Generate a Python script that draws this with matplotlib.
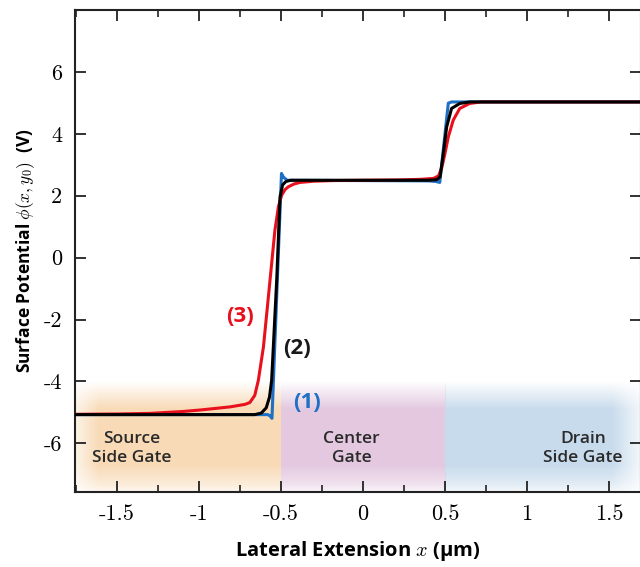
import numpy as np
import matplotlib
matplotlib.use("Agg")
import matplotlib.pyplot as plt
from matplotlib.ticker import MultipleLocator

plt.rcParams['mathtext.fontset'] = 'cm'
plt.rcParams['axes.unicode_minus'] = False

# curve (1): blue
x1 = [-1.76, -0.58, -0.565, -0.555, -0.497, -0.485, -0.462, 0.40, 0.445, 0.468, 0.52, 0.54, 1.70]
y1 = [-5.07, -5.07, -5.12, -5.19, 2.72, 2.60, 2.50, 2.48, 2.46, 2.43, 4.99, 5.03, 5.03]

# curve (2): black
x2 = [-1.76, -0.66, -0.62, -0.59, -0.57, -0.557, -0.526, -0.506, -0.49, -0.47, -0.44,
      0.40, 0.45, 0.47, 0.49, 0.51, 0.54, 0.59, 0.65, 1.70]
y2 = [-5.07, -5.07, -5.02, -4.85, -4.5, -3.96, -0.7, 1.96, 2.35, 2.46, 2.50,
      2.50, 2.52, 2.61, 3.37, 4.22, 4.82, 4.98, 5.03, 5.03]

# curve (3): red
x3 = [-1.76, -1.5, -1.3, -1.1, -0.99, -0.81, -0.72, -0.69, -0.66, -0.638, -0.607, -0.577,
      -0.557, -0.537, -0.516, -0.496, -0.475, -0.455, -0.42, -0.384, -0.30, -0.18, 0.0,
      0.2, 0.35, 0.43, 0.46, 0.48, 0.50, 0.52, 0.55, 0.59, 0.65, 0.72, 1.70]
y3 = [-5.06, -5.05, -5.03, -4.97, -4.92, -4.82, -4.74, -4.68, -4.45, -3.96, -2.88, -1.27,
      -0.19, 0.89, 1.64, 2.02, 2.20, 2.29, 2.38, 2.43, 2.47, 2.49, 2.50,
      2.51, 2.53, 2.56, 2.64, 2.90, 3.37, 3.90, 4.44, 4.82, 4.98, 5.03, 5.03]

# gate regions
gate_names = ["Source\nSide Gate", "Center\nGate", "Drain\nSide Gate"]
gate_lo = [-1.76, -0.5, 0.5]
gate_hi = [-0.5, 0.5, 1.70]
gate_colors = [(0.973, 0.855, 0.715), (0.892, 0.785, 0.882), (0.785, 0.860, 0.928)]
gate_text_x = [-1.41, -0.07, 1.34]
gate_text_y = -6.16

xticks = [-1.5, -1, -0.5, 0, 0.5, 1, 1.5]
xticklabels = ["-1.5", "-1", "-0.5", "0", "0.5", "1", "1.5"]
yticks = [-6, -4, -2, 0, 2, 4, 6]
yticklabels = ["-6", "-4", "-2", "0", "2", "4", "6"]

fig = plt.figure(figsize=(6.4, 5.67), dpi=100)
ax = fig.add_axes([75/640, 1 - 492/567, (641 - 75)/640, (492 - 10)/567])
ax.set_xlim(-1.756, 1.695)
ax.set_ylim(-7.57, 8.0)

# shaded gate bands, fading at the top / bottom and outer edges
ylo, yhi = -7.57, -4.0
yy = np.linspace(yhi, ylo, 200)
a_y = np.interp(yy, [ylo, -7.3, -6.7, -4.9, yhi], [0.2, 0.55, 1.0, 1.0, 0.0])
for i in range(3):
    xx = np.linspace(gate_lo[i], gate_hi[i], 200)
    a_x = np.ones_like(xx)
    if i == 0:
        a_x = np.interp(xx, [gate_lo[i], gate_lo[i] + 0.15, gate_hi[i]], [0.3, 1.0, 1.0])
    if i == 2:
        a_x = np.interp(xx, [gate_lo[i], gate_hi[i] - 0.18, gate_hi[i]], [1.0, 1.0, 0.2])
    img = np.zeros((len(yy), len(xx), 4))
    img[..., :3] = gate_colors[i]
    img[..., 3] = a_y[:, None] * a_x[None, :]
    ax.imshow(img, extent=[gate_lo[i], gate_hi[i], ylo, yhi], aspect='auto',
              origin='upper', zorder=0, interpolation='bilinear')
    ax.text(gate_text_x[i], gate_text_y, gate_names[i], ha='center', va='center',
            fontsize=12.5, color='#2a2a2a', family='Open Sans', fontweight='semibold',
            linespacing=1.2, zorder=1)

ax.plot(x1, y1, color='#1f6fc4', lw=2.2, zorder=3)
ax.plot(x3, y3, color='#e8101c', lw=2.2, zorder=4)
ax.plot(x2, y2, color='black', lw=2.2, zorder=5)

ax.text(-0.34, -4.67, "(1)", color='#1f6fc4', fontsize=16, fontweight='bold',
        family='Open Sans', ha='center', va='center')
ax.text(-0.40, -2.92, "(2)", color='#1a1a1a', fontsize=16, fontweight='bold',
        family='Open Sans', ha='center', va='center')
ax.text(-0.75, -1.89, "(3)", color='#e8101c', fontsize=16, fontweight='bold',
        family='Open Sans', ha='center', va='center')

ax.set_xticks(xticks)
ax.set_xticklabels(xticklabels, family='cmr10', fontsize=16)
ax.set_yticks(yticks)
ax.set_yticklabels(yticklabels, family='cmr10', fontsize=16)
ax.xaxis.set_minor_locator(MultipleLocator(0.25))
ax.tick_params(which='both', direction='in', top=True, right=True, color='#222222')
ax.tick_params(which='major', length=8, width=1.3)
ax.tick_params(which='minor', length=5, width=1.2)
ax.tick_params(axis='x', pad=9)
ax.tick_params(axis='y', pad=9)
for s in ax.spines.values():
    s.set_linewidth(1.5)
    s.set_color('#222222')

ax.set_xlabel(r"Lateral Extension $x$ (µm)", family='Open Sans', fontweight='bold',
              fontsize=14.5, labelpad=11)
ax.set_ylabel(r"Surface Potential $\phi(x,y_0)$  (V)", family='Open Sans',
              fontweight='bold', fontsize=12.5, labelpad=5)

fig.savefig("out.png", dpi=100)
